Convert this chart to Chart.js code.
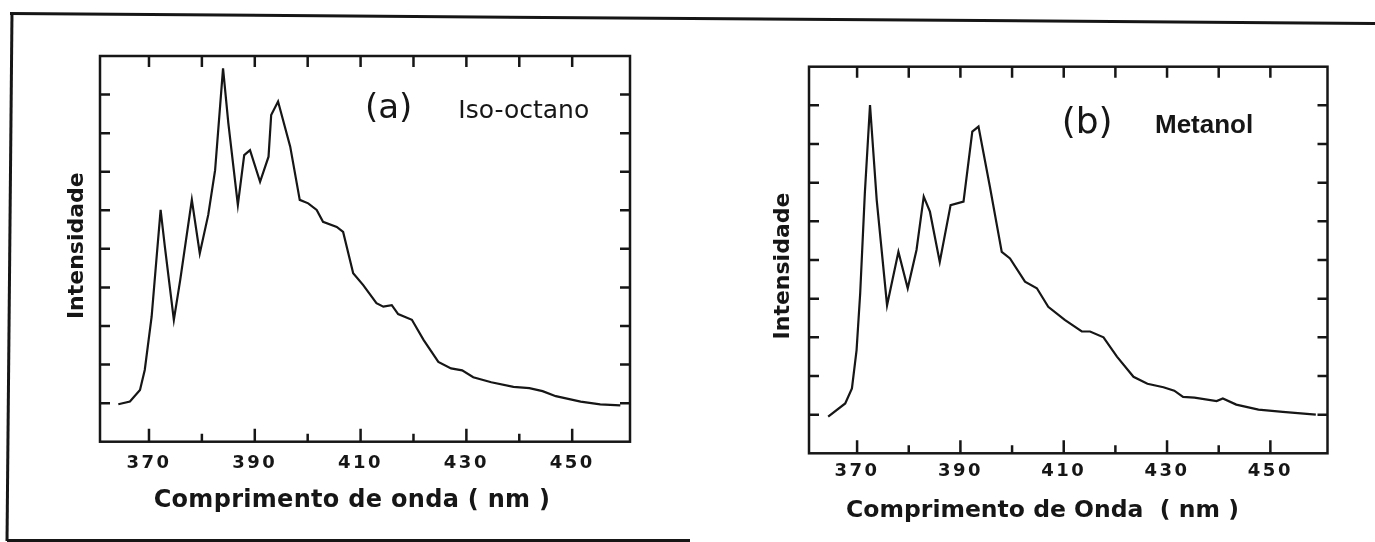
<!DOCTYPE html>
<html><head><meta charset="utf-8">
<script src="https://cdn.jsdelivr.net/npm/chart.js@4.4.1/dist/chart.umd.min.js"></script>
<style>
html,body{margin:0;padding:0;background:#fff;width:1375px;height:542px;overflow:hidden;position:relative;}
.panel{position:absolute;top:0;height:542px;}
#pa{left:0;width:690px;}
#pb{left:690px;width:685px;}
.ln{position:absolute;background:#161616;}
</style></head><body>
<div class="ln" style="left:10px;top:16.8px;width:1370px;height:2.5px;transform:rotate(0.42deg);"></div>
<div class="ln" style="left:8px;top:13px;width:2.5px;height:528px;transform:rotate(0.54deg);"></div>
<div class="ln" style="left:7px;top:539px;width:683px;height:2.5px;"></div>
<div class="panel" id="pa"><canvas id="ca"></canvas></div>
<div class="panel" id="pb"><canvas id="cb"></canvas></div>
<script>
// Panel (a) Iso-octano: wavelength (nm) and intensity (arbitrary units, 0-10 frame)
const xA = [364.2,366.4,368.3,369.2,370.5,371.5,372.2,373.0,374.7,375.9,378.1,379.6,381.2,382.5,384.0,385.0,386.8,388.0,389.1,391.0,392.6,393.1,394.4,396.7,398.5,400.1,401.7,402.9,405.5,406.7,408.6,410.5,413.0,414.3,415.9,417.1,419.7,421.9,424.7,427.1,429.2,431.3,434.7,438.9,441.9,444.4,446.9,451.6,455.3,459.1];
const yA = [0.97,1.04,1.34,1.86,3.24,4.88,6.01,5.06,3.16,4.19,6.27,4.88,5.88,7.04,9.68,8.26,6.14,7.43,7.56,6.74,7.39,8.47,8.82,7.65,6.27,6.18,6.01,5.70,5.57,5.44,4.37,4.06,3.59,3.50,3.54,3.31,3.16,2.64,2.07,1.90,1.85,1.67,1.54,1.42,1.39,1.31,1.18,1.04,0.97,0.94];
// Panel (b) Metanol
const xB = [364.4,367.7,369.0,369.9,370.6,371.5,372.5,373.8,375.8,378.0,379.8,381.5,382.9,384.1,386.0,388.1,390.6,392.3,393.5,395.7,398.0,399.6,402.5,404.8,407.0,410.2,413.5,415.1,417.7,420.3,423.5,426.2,429.3,431.4,433.1,435.3,439.6,440.8,443.4,447.7,452.4,458.8];
const yB = [0.95,1.29,1.68,2.67,4.14,6.73,9.01,6.55,3.83,5.21,4.27,5.26,6.64,6.25,4.95,6.42,6.51,8.32,8.45,6.90,5.21,5.04,4.44,4.27,3.79,3.45,3.15,3.15,3.00,2.50,1.98,1.80,1.71,1.62,1.46,1.44,1.35,1.42,1.26,1.13,1.07,1.00];
// Axis ticks
const xTickValues = [370,380,390,400,410,420,430,440,450];
const xTickLabels = [370,390,410,430,450];
const yTickValues = [1,2,3,4,5,6,7,8,9];

const INK = '#161616';
const FONT = '"DejaVu Sans", sans-serif';

const frameTicks = {
  id: 'frameTicks',
  beforeDraw(chart) { chart.ctx.letterSpacing = '2.5px'; },
  afterDraw(chart, args, opts) {
    const {ctx, chartArea: a, scales} = chart;
    const x = scales.x, y = scales.y;
    ctx.save();
    ctx.letterSpacing = '0px';
    ctx.strokeStyle = INK;
    ctx.lineWidth = 2.5;
    ctx.strokeRect(a.left, a.top, a.right - a.left, a.bottom - a.top);
    ctx.beginPath();
    xTickValues.forEach(v => {
      const px = x.getPixelForValue(v);
      const major = xTickLabels.includes(v);
      ctx.moveTo(px, a.bottom); ctx.lineTo(px, a.bottom - (major ? 13 : 8));
      ctx.moveTo(px, a.top); ctx.lineTo(px, a.top + 11);
    });
    yTickValues.forEach(v => {
      const py = y.getPixelForValue(v);
      ctx.moveTo(a.left, py); ctx.lineTo(a.left + 10, py);
      ctx.moveTo(a.right, py); ctx.lineTo(a.right - 10, py);
    });
    ctx.stroke();
    ctx.fillStyle = INK;
    (opts.texts || []).forEach(t => {
      ctx.save();
      ctx.font = t.font;
      ctx.letterSpacing = (t.ls || 0) + 'px';
      ctx.textAlign = t.align || 'left';
      ctx.textBaseline = 'alphabetic';
      ctx.translate(t.x, t.y);
      if (t.rot) ctx.rotate(t.rot * Math.PI / 180);
      ctx.fillText(t.text, 0, 0);
      ctx.restore();
    });
    ctx.restore();
  }
};

function makePanel(id, xs, ys, p) {
  return new Chart(document.getElementById(id), {
    type: 'line',
    data: { datasets: [{
      data: xs.map((v, i) => ({x: v, y: ys[i]})),
      borderColor: INK, borderWidth: 2.2, pointRadius: 0, tension: 0, fill: false
    }]},
    options: {
      responsive: true, maintainAspectRatio: false, animation: false,
      layout: { padding: { left: p.left, right: p.right, top: p.top, bottom: 0 } },
      plugins: { legend: {display: false}, tooltip: {enabled: false}, frameTicks: { texts: p.texts } },
      scales: {
        x: {
          type: 'linear', min: p.xmin, max: p.xmax,
          grid: { display: false, drawTicks: false }, border: { display: false },
          afterBuildTicks: s => { s.ticks = xTickLabels.map(v => ({value: v})); },
          afterFit: s => { s.height = p.xh; },
          ticks: { autoSkip: false, maxRotation: 0, padding: p.tpad, color: INK, font: { family: '"DejaVu Sans"', size: 18, weight: 'bold' } }
        },
        y: { display: false, min: 0, max: 10 }
      }
    },
    plugins: [frameTicks]
  });
}

makePanel('ca', xA, yA, {
  left: 100, right: 60, top: 56, xh: 100.3, tpad: 10.8, xmin: 360.74, xmax: 460.93,
  texts: [
    {text: '(a)', x: 365, y: 117.7, font: '34px ' + FONT},
    {text: 'Iso-octano', x: 458.3, y: 117.7, font: '25px ' + FONT},
    {text: 'Comprimento de onda ( nm )', x: 352, y: 507, font: 'bold 24px ' + FONT, align: 'center', ls: 0.3},
    {text: 'Intensidade', x: 82.6, y: 245.7, font: 'bold 22px ' + FONT, align: 'center', ls: 0, rot: -90}
  ]
});
makePanel('cb', xB, yB, {
  left: 119, right: 47.5, top: 66.7, xh: 88.7, tpad: 7, xmin: 360.69, xmax: 461.06,
  texts: [
    {text: '(b)', x: 371.7, y: 133.3, font: '36px ' + FONT},
    {text: 'Metanol', x: 465, y: 133.3, font: 'bold 26px "Liberation Sans", sans-serif'},
    {text: 'Comprimento de Onda  ( nm )', x: 352.5, y: 517, font: 'bold 23.5px ' + FONT, align: 'center', ls: 0},
    {text: 'Intensidade', x: 98.6, y: 266, font: 'bold 22px ' + FONT, align: 'center', ls: 0, rot: -90}
  ]
});
</script>
</body></html>
